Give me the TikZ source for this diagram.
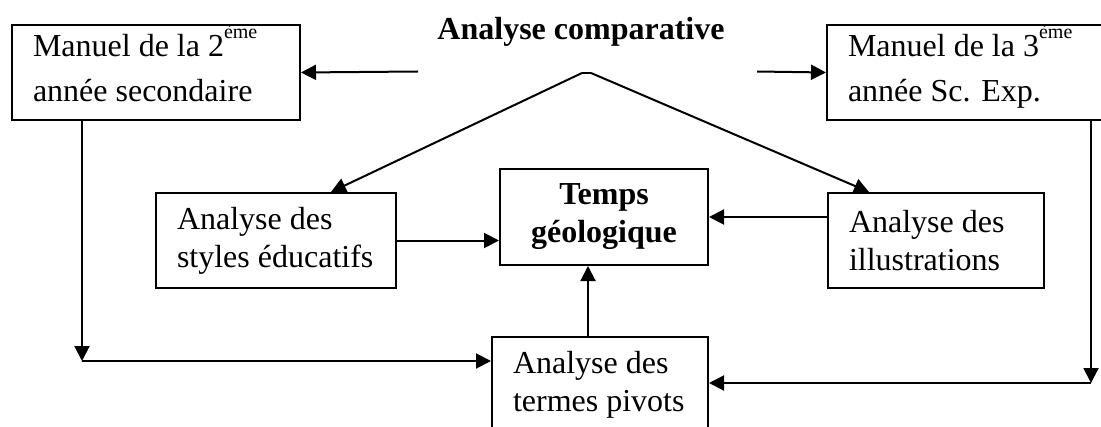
\documentclass[tikz,border=0pt]{standalone}
\usepackage{fontspec}
\setmainfont{Liberation Serif}
\usetikzlibrary{arrows.meta}

\def\eme{\smash{\raisebox{9pt}{\fontsize{10}{10}\selectfont ème}}}
\def\pied{\rule[-4.5pt]{0pt}{0pt}}

\begin{document}
\begin{tikzpicture}[x=0.5pt,y=-0.5pt,
        boite/.style={draw,line width=1pt,anchor=north west,align=flush left,
            inner xsep=10.5pt,inner ysep=0pt,minimum height=47.5pt,
            font=\fontsize{16}{19}\selectfont},
        fleche/.style={line width=1pt,-{Triangle[length=7.5pt,width=7.5pt]}}]

        \useasboundingbox (0,0) rectangle (1101,427);

% Titre
        \node[font=\fontsize{16}{19}\selectfont\bfseries,anchor=base] (titre) at (581,40) {Analyse comparative};

% Manuels
        \node[boite,text width=123pt] (man2) at (11,24) {\mbox{Manuel de la 2\eme}\\[3.5pt]\mbox{année secondaire}\pied};
        \node[boite,text width=124pt] (man3) at (826,24) {\mbox{Manuel de la 3\eme}\\[3.5pt]\mbox{année Sc. Exp.}\pied};

% Analyses
        \node[boite,text width=99pt] (styles) at (155,192) {\mbox{Analyse des}\\\mbox{styles éducatifs}};
        \node[boite,text width=87pt] (illus) at (827,192) {\mbox{Analyse des}\\\mbox{illustrations}};
        \node[boite,text width=87pt] (termes) at (491,336) {\mbox{Analyse des}\\\mbox{termes pivots}};

        \node[boite,align=center,inner xsep=0pt,minimum width=104pt,minimum height=48pt,
            font=\fontsize{16}{19}\selectfont\bfseries] (temps) at (499,168) {Temps\\géologique};

%      \draw[help lines] (0,0) grid[step=50] (1101,427);

        \coordinate (gauche) at (418,71.5);
        \coordinate (droite) at (757,71.5);
        \coordinate (sommet) at (587,73);
        \coordinate (coinG) at (82,361);
        \coordinate (coinD) at (1091,383);

        \draw[fleche] (gauche) -- (man2.east);
        \draw[fleche] (droite) -- (man3.west);
        \draw[fleche] ([xshift=-2.5pt]sommet) -- ([xshift=27.5pt]styles.north);
        \draw[fleche] ([xshift=2pt]sommet) -- ([xshift=-33.5pt]illus.north);
        \draw[line width=1pt] ([xshift=-2.5pt]sommet) -- ([xshift=2pt]sommet);

        \draw[fleche] (styles.east) -- (temps.west |- styles.east);
        \draw[fleche] (illus.west |- temps.east) -- (temps.east);
        \draw[fleche] ([xshift=-6pt]termes.north) -- ([xshift=-6pt]termes.north |- temps.south);

% Retours vers les termes pivots
        \draw[fleche] (man2.south -| coinG) -- (coinG);
        \draw[fleche] (coinG) -- (termes.west |- coinG);
        \draw[fleche] (man3.south -| coinD) -- (coinD);
        \draw[fleche] (coinD) -- (termes.east |- coinD);

\end{tikzpicture}
\end{document}
